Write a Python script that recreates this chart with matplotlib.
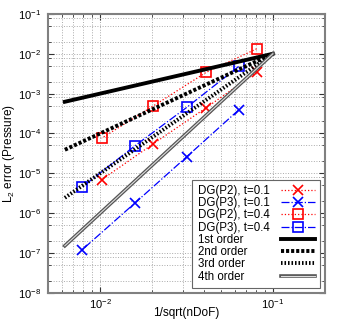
import numpy as np
import matplotlib
matplotlib.use('Agg')
from matplotlib import pyplot as plt
from matplotlib import patheffects as pe
from matplotlib.ticker import LogLocator, NullFormatter

plt.rcParams['font.family'] = ['Liberation Sans', 'DejaVu Sans']
plt.rcParams['mathtext.fontset'] = 'custom'
plt.rcParams['mathtext.rm'] = 'Liberation Sans'

# measured data
h_p2 = [0.0805, 0.041, 0.0203, 0.0102]
h_p3 = [0.0634, 0.0317, 0.0159, 0.0079]
err_p2_t01 = [3.4e-3, 4.4e-4, 5.5e-5, 6.9e-6]
err_p3_t01 = [3.9e-4, 2.6e-5, 1.8e-6, 1.23e-7]
err_p2_t04 = [1.33e-2, 3.4e-3, 4.9e-4, 7.6e-5]
err_p3_t04 = [4.8e-3, 4.5e-4, 4.9e-5, 4.6e-6]

# reference slopes through (0.1, 0.01)
h_ref = [0.00625, 0.1]
e_ref = 0.01

fig = plt.figure(figsize=(3.46, 3.23), dpi=100)
ax = fig.add_axes([0.139, 0.093, 0.8, 0.864])

ax.plot(h_p2, err_p2_t01, ':', color='red', lw=0.9, marker='x', ms=6.5, mew=1.2,
        label='DG(P2), t=0.1')
ax.plot(h_p3, err_p3_t01, '-.', color='blue', lw=0.9, marker='x', ms=6.5, mew=1.2,
        label='DG(P3), t=0.1')
ax.plot(h_p2, err_p2_t04, ':', color='red', lw=0.9, marker='s', ms=6.5, mew=1.2,
        mfc='none', label='DG(P2), t=0.4')
ax.plot(h_p3, err_p3_t04, '-.', color='blue', lw=0.9, marker='s', ms=6.5, mew=1.2,
        mfc='none', label='DG(P3), t=0.4')

styles = ['-', (0, (0.8, 0.5)), (0, (0.4, 0.5)), '-']
names = ['1st order', '2nd order', '3rd order', '4th order']
for order in range(1, 5):
    y = [e_ref * (h / 0.1) ** order for h in h_ref]
    if order == 4:
        ax.plot(h_ref, y, '-', color='#dddddd', lw=0.8, label=names[3],
                path_effects=[pe.Stroke(linewidth=2.6, foreground='#555555'), pe.Normal()])
    else:
        ax.plot(h_ref, y, linestyle=styles[order - 1], color='black', lw=2.8,
                label=names[order - 1])

ax.set_xscale('log')
ax.set_yscale('log')
ax.set_xlim(0.005, 0.2)
ax.set_ylim(1e-8, 1e-1)
ax.xaxis.set_major_locator(LogLocator(base=10, numticks=10))
ax.xaxis.set_minor_locator(LogLocator(base=10, subs=np.arange(2, 10), numticks=20))
ax.yaxis.set_major_locator(LogLocator(base=10, numticks=10))
ax.yaxis.set_minor_locator(LogLocator(base=10, subs=[2, 5, 8], numticks=20))
ax.xaxis.set_minor_formatter(NullFormatter())
ax.yaxis.set_minor_formatter(NullFormatter())

ax.grid(True, which='both', linestyle=':', color='#aaaaaa', lw=0.7)
ax.tick_params(which='both', direction='in', top=True, right=True, labelsize=8,
               color='#333333')
ax.tick_params(which='major', length=4)
ax.tick_params(which='minor', length=2)
ax.tick_params(axis='x', which='major', pad=3)
ax.tick_params(axis='y', which='major', pad=5)
for s in ax.spines.values():
    s.set_color('#808080')
    s.set_linewidth(1.5)

ax.set_xlabel('1/sqrt(nDoF)', fontsize=8.5)
ax.xaxis.set_label_coords(0.5, -0.05)
ax.set_ylabel('L$_2$ error (Pressure)', fontsize=8.5, labelpad=1)

leg = ax.legend(loc='lower right', fontsize=8.3, markerfirst=False,
                handlelength=2.9, labelspacing=0.02, borderpad=0.45,
                handletextpad=1.0, fancybox=False, framealpha=1,
                edgecolor='#666666', borderaxespad=0.45)
leg.get_frame().set_linewidth(0.8)

# left-align legend texts while keeping handles in one column on the right
renderer = fig.canvas.get_renderer()
dpicor = renderer.points_to_pixels(1.)
rows = [r for col in leg._legend_handle_box.get_children() for r in col.get_children()]
widths = [r.get_children()[0].get_bbox(renderer).width for r in rows]
wmax = max(widths)
for r, w in zip(rows, widths):
    r.sep = r.sep + (wmax - w) / dpicor

fig.savefig('out.png', dpi=100)
